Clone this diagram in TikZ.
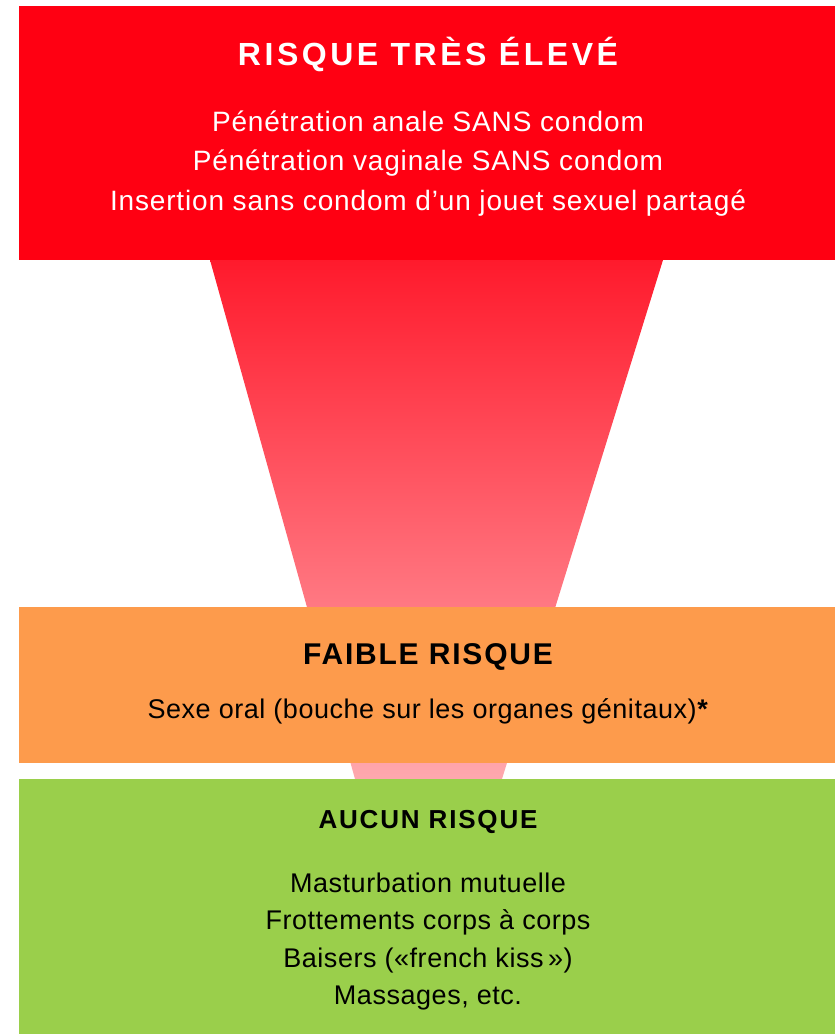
\documentclass[tikz,border=0pt]{standalone}
\usepackage{fontspec}
\setmainfont{Liberation Sans}
\newfontfamily\hdbigfont[LetterSpace=11]{Liberation Sans}
\newfontfamily\hdmidfont[LetterSpace=6]{Liberation Sans}
\newfontfamily\hdsmallfont[LetterSpace=7]{Liberation Sans}
\newfontfamily\itmbigfont[LetterSpace=3]{Liberation Sans}
\newfontfamily\itmfont[LetterSpace=2]{Liberation Sans}
\definecolor{hired}{HTML}{FF0012}
\definecolor{funtop}{HTML}{FF1A2C}
\definecolor{funbot}{HTML}{FFA8AE}
\definecolor{lowor}{HTML}{FD9B4C}
\definecolor{nogreen}{HTML}{9ACF4B}
\tikzset{
  riskbox/.style={draw=none, inner sep=0pt, outer sep=0pt},
  headtxt/.style={anchor=base, inner sep=0pt},
  itemtxt/.style={anchor=base, inner sep=0pt, font=\itmfont\fontsize{27}{32}\selectfont},
  itembig/.style={anchor=base, inner sep=0pt, font=\itmbigfont\fontsize{28}{32}\selectfont},
}
\begin{document}
\begin{tikzpicture}[x=1pt,y=1pt]
\useasboundingbox (0,0) rectangle (835,-1034);
% funnel
\shade[top color=funtop, bottom color=funbot] (210,-260) -- (663,-260) -- (502,-779) -- (355,-779) -- cycle;
% boxes
\node[riskbox, fill=hired, minimum width=816, minimum height=254, anchor=north west] (high) at (19,-6) {};
\node[riskbox, fill=lowor, minimum width=816, minimum height=156, anchor=north west] (low) at (19,-607) {};
\node[riskbox, fill=nogreen, minimum width=816, minimum height=255, anchor=north west] (none) at (19,-779) {};
% high risk texts
\node[headtxt, text=white, font=\hdbigfont\fontsize{32}{36}\selectfont\bfseries] (hT) at (428,-65) {RISQUE TRÈS ÉLEVÉ};
\node[itembig, text=white] (h1) at (428,-131) {Pénétration anale SANS condom};
\node[itembig, text=white] (h2) at (428,-170) {Pénétration vaginale SANS condom};
\node[itembig, text=white] (h3) at (428,-210) {Insertion sans condom d’un jouet sexuel partagé};
% low risk texts
\node[headtxt, text=black, font=\hdmidfont\fontsize{30}{36}\selectfont\bfseries] (lT) at (428,-664) {FAIBLE RISQUE};
\node[itemtxt, text=black] (l1) at (428,-718) {Sexe oral (bouche sur les organes génitaux)\textbf{*}};
% no risk texts
\node[headtxt, text=black, font=\hdsmallfont\fontsize{26}{30}\selectfont\bfseries] (nT) at (428,-828) {AUCUN RISQUE};
\node[itemtxt, text=black] (n1) at (428,-892) {Masturbation mutuelle};
\node[itemtxt, text=black] (n2) at (428,-929) {Frottements corps à corps};
\node[itemtxt, text=black] (n3) at (428,-967) {Baisers («french kiss\,»)};
\node[itemtxt, text=black] (n4) at (428,-1004) {Massages, etc.};
\end{tikzpicture}
\end{document}
